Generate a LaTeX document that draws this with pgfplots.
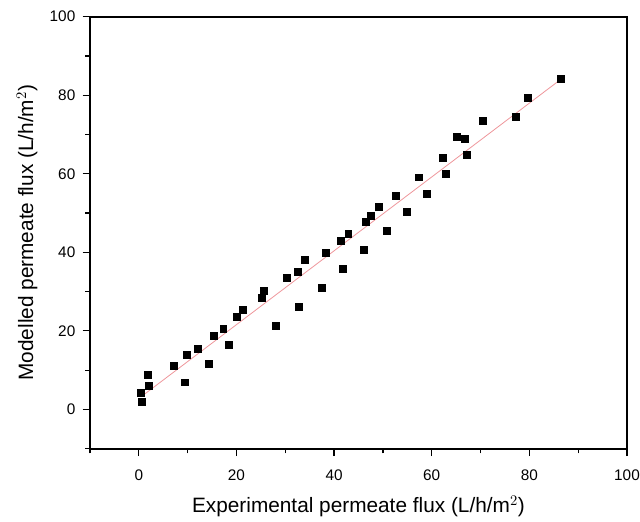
\documentclass[border=0pt]{standalone}
\usepackage{pgfplots}
\pgfplotsset{compat=1.18}
\usepackage{fontspec}
\setmainfont{Liberation Sans}
\definecolor{fitred}{RGB}{238,150,155}
\begin{document}
\begin{tikzpicture}
\begin{axis}[
  name=ax,
  scale only axis,
  width=402.75pt, height=324pt,
  xmin=-10, xmax=100, ymin=-10, ymax=100,
  xtick={0,20,...,100}, ytick={0,20,...,100},
  minor xtick={-10,10,30,50,70,90}, minor ytick={-10,10,30,50,70,90},
  tick align=outside,
  xtick pos=bottom, ytick pos=left,
  major tick length=5.5pt, minor tick length=3.5pt,
  axis line style={black, line width=1.2pt},
  every tick/.style={black, line width=0.9pt},
  /pgf/number format/assume math mode=true,
  ticklabel style={font=\fontsize{11.5}{13}\selectfont},
  xticklabel style={yshift=-6.5pt},
  yticklabel style={xshift=-2pt},
  xlabel={Experimental permeate flux (L/h/m$^{2}$)},
  ylabel={Modelled permeate flux (L/h/m$^{2}$)},
  label style={font=\fontsize{15.6}{18}\selectfont},
  xlabel style={at={(axis description cs:0.5,-0.1343)}, anchor=center},
  ylabel style={at={(axis description cs:-0.1173,0.5)}, anchor=center},
  clip=false,
]
\addplot[fitred, line width=0.6pt] coordinates {(0.92,3.64) (86.4,84.0)};
\addplot[only marks, mark=square*, mark size=2.6pt, black] coordinates {
(0.47,4.2) (0.67,1.9) (1.9,8.9) (2.1,5.9) (7.1,11.0) (9.45,6.9) (9.8,13.8)
(12.0,15.5) (14.3,11.7) (15.4,18.7) (17.3,20.5) (18.5,16.5) (20.1,23.5)
(21.3,25.4) (25.2,28.4) (25.6,30.1) (28.0,21.4) (30.3,33.4) (32.7,26.1)
(32.5,35.0) (33.9,38.0) (37.4,31.0) (38.2,39.8) (41.8,35.9) (41.4,42.9)
(42.9,44.7) (46.0,40.6) (46.5,47.7) (47.5,49.3) (49.2,51.6) (50.7,45.5)
(52.6,54.3) (54.8,50.3) (57.3,59.1) (58.9,55.0) (62.2,64.0) (62.9,59.9)
(65.1,69.5) (66.7,68.8) (67.1,64.9) (70.5,73.4) (77.3,74.5) (79.6,79.3)
(86.4,84.1)
};
\end{axis}
\draw[black, line width=1.3pt] (ax.south west) -- (ax.north west) -- (ax.north east) -- (ax.south east) -- cycle;
\pgfresetboundingbox
\path[use as bounding box] ([shift={(-67.5pt,-54.75pt)}]ax.south west) rectangle ([shift={(9.75pt,12.5pt)}]ax.north east);
\end{tikzpicture}
\end{document}
